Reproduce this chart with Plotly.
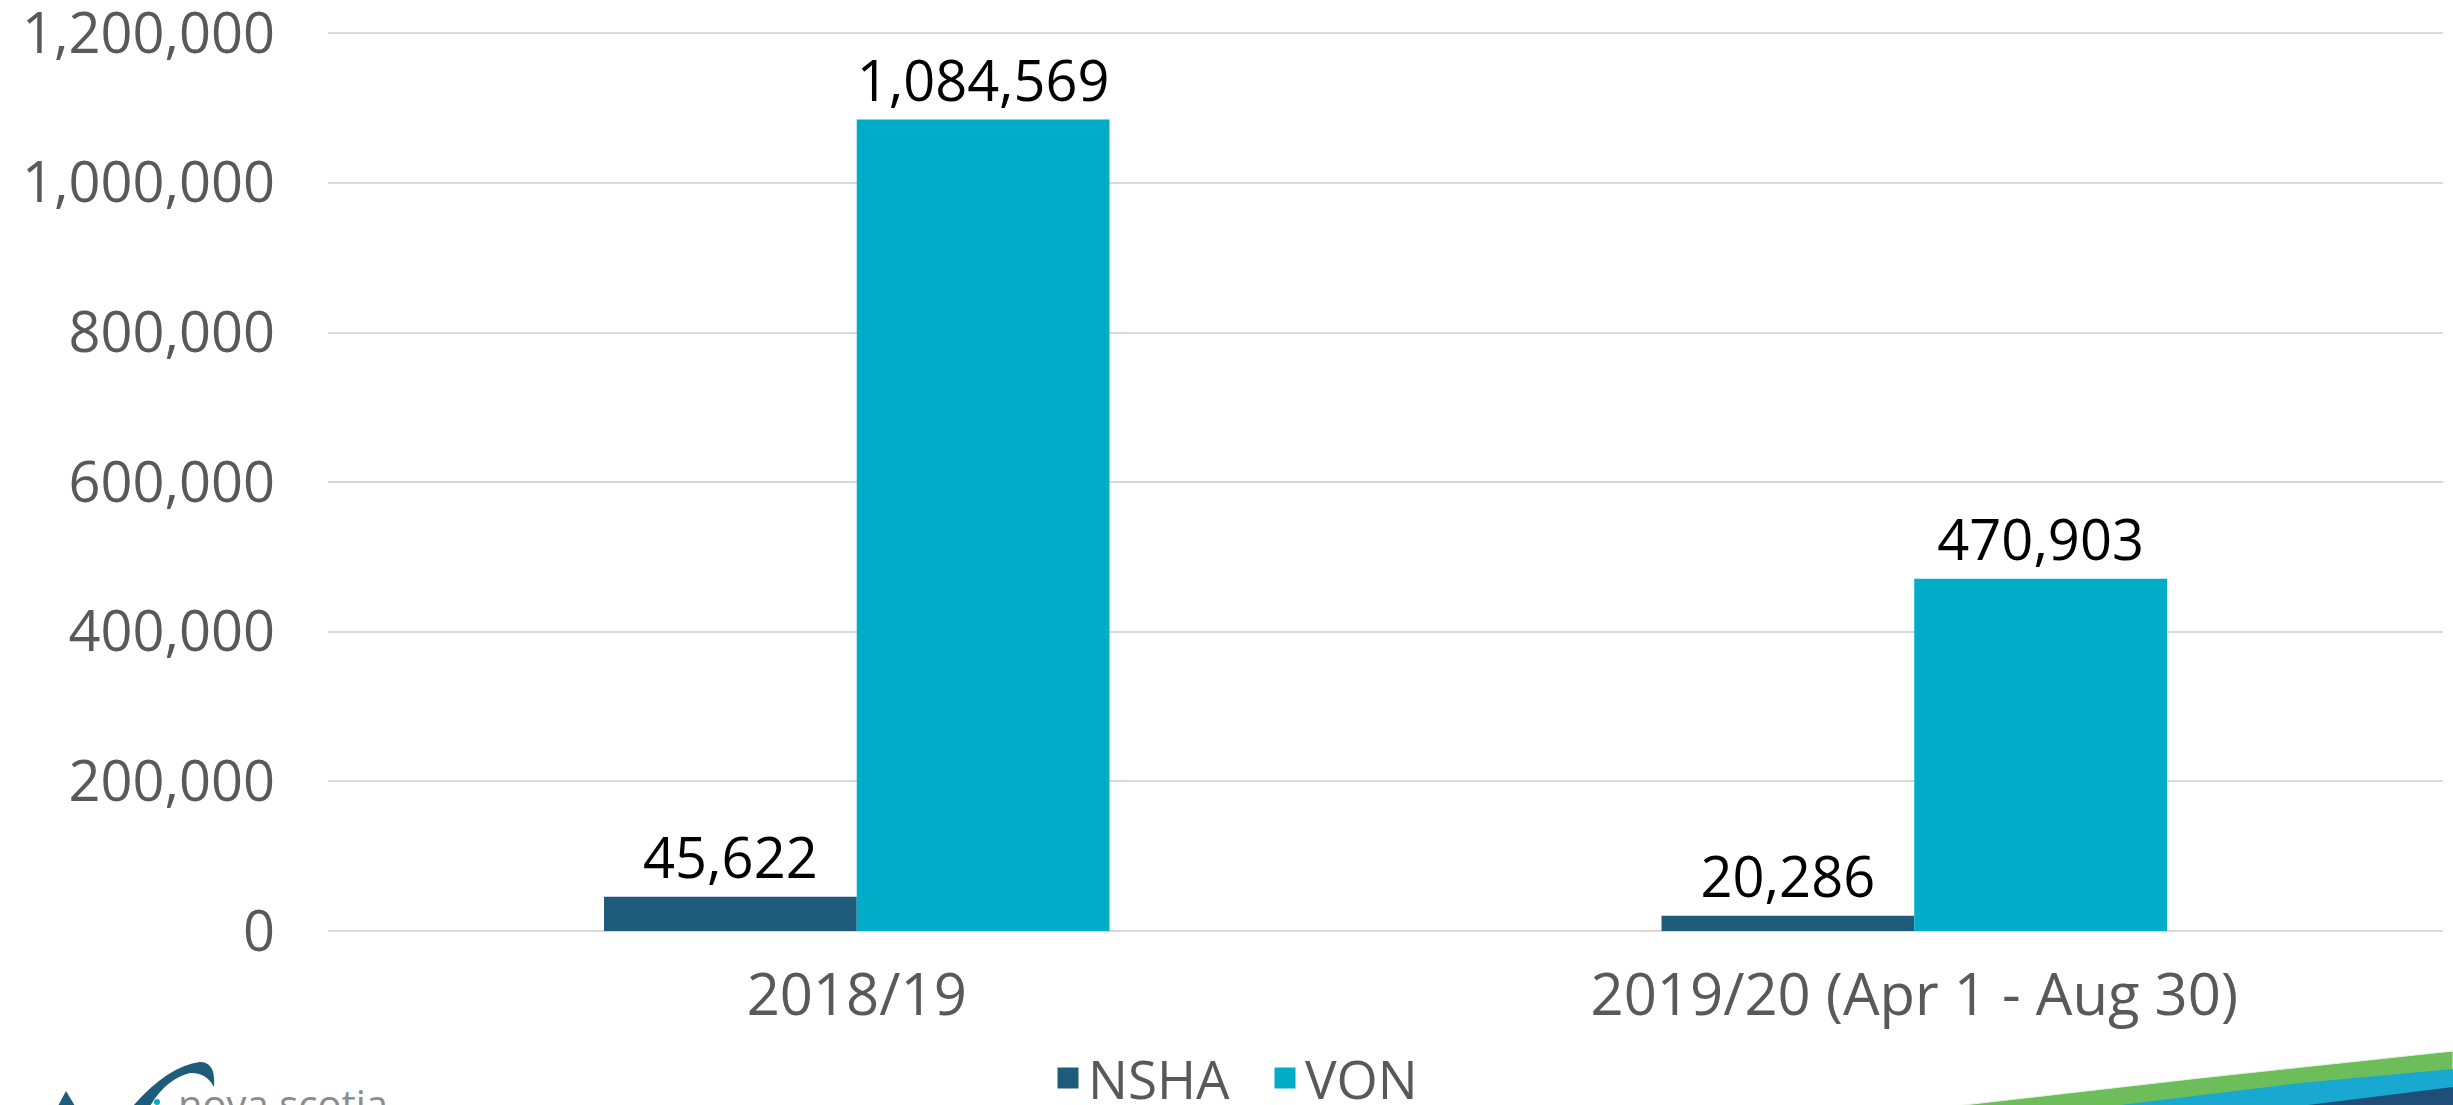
import plotly.graph_objects as go

# ---- data ----
categories = ["2018/19", "2019/20 (Apr 1 - Aug 30)"]
nsha_values = [45622, 20286]
von_values = [1084569, 470903]
series_names = ["NSHA", "VON"]
y_tick_values = [0, 200000, 400000, 600000, 800000, 1000000, 1200000]

# ---- style ----
W, H = 2453, 1105
ML, MR, MT, MB = 328, 10, 31, 174
PW, PH = W - ML - MR, H - MT - MB
FONT = "Open Sans"
NSHA_COLOR = "#1F5B7B"
VON_COLOR = "#00ACC8"
GRID = "#D9D9D9"
AXIS_TEXT = "#595959"


def px(x):
    return (x - ML) / PW


def py(y):
    return (H - MB - y) / PH


fig = go.Figure()
for name, vals, col in [(series_names[0], nsha_values, NSHA_COLOR),
                        (series_names[1], von_values, VON_COLOR)]:
    fig.add_trace(go.Bar(
        x=categories, y=vals, name=name, showlegend=False,
        marker=dict(color=col, line=dict(width=0)),
        texttemplate="%{y:,}", textposition="outside", cliponaxis=False,
        textfont=dict(family=FONT, size=56, color="#000000"),
    ))
# legend entries (square swatches)
for name, col in [(series_names[0], NSHA_COLOR), (series_names[1], VON_COLOR)]:
    fig.add_trace(go.Scatter(
        x=[None], y=[None], mode="markers", name=name, showlegend=True,
        marker=dict(symbol="square", size=16, color=col, line=dict(color=col, width=5)),
    ))


def path_from(points):
    s = "M {:.5f} {:.5f}".format(px(points[0][0]), py(points[0][1]))
    for p in points[1:]:
        s += " L {:.5f} {:.5f}".format(px(p[0]), py(p[1]))
    return s + " Z"


def curve_path(cmds):
    out = []
    for c in cmds:
        if c[0] in ("M", "L"):
            out.append("{} {:.5f} {:.5f}".format(c[0], px(c[1]), py(c[2])))
        elif c[0] == "Q":
            out.append("Q {:.5f} {:.5f} {:.5f} {:.5f}".format(px(c[1]), py(c[2]), px(c[3]), py(c[4])))
        elif c[0] == "Z":
            out.append("Z")
    return " ".join(out)


shapes = []
# bottom-right decorative swoosh
shapes.append(dict(type="path", xref="paper", yref="paper", layer="above",
                   path=path_from([(1955, 1106), (2200, 1078), (2453, 1051), (2453, 1106)]),
                   fillcolor="#6DBE5A", line=dict(color="#E8F3E3", width=1)))
shapes.append(dict(type="path", xref="paper", yref="paper", layer="above",
                   path=path_from([(2112, 1106), (2300, 1083), (2453, 1069), (2453, 1106)]),
                   fillcolor="#19A8CF", line=dict(width=0)))
shapes.append(dict(type="path", xref="paper", yref="paper", layer="above",
                   path=path_from([(2300, 1106), (2453, 1087), (2453, 1106)]),
                   fillcolor="#1F4E79", line=dict(width=0)))
# bottom-left logo fragments
shapes.append(dict(type="path", xref="paper", yref="paper", layer="above",
                   path=curve_path([("M", 133, 1106), ("Q", 168, 1066, 200, 1062),
                                    ("Q", 216, 1062, 214, 1087), ("Q", 206, 1072, 190, 1073),
                                    ("Q", 166, 1079, 150, 1106), ("Z",)]),
                   fillcolor="#1F5B7B", line=dict(width=0)))
shapes.append(dict(type="path", xref="paper", yref="paper", layer="above",
                   path=path_from([(58, 1106), (66, 1091), (75, 1106)]),
                   fillcolor="#1F5B7B", line=dict(width=0)))
shapes.append(dict(type="circle", xref="paper", yref="paper", layer="above",
                   x0=px(154), x1=px(160), y0=py(1099), y1=py(1105),
                   fillcolor="#00ACC8", line=dict(width=0)))

annotations = [dict(xref="paper", yref="paper", x=px(176), y=py(1074),
                    xanchor="left", yanchor="top", showarrow=False,
                    text="nova scotia", font=dict(family=FONT, size=40, color="#8C8C8C"))]

fig.update_layout(
    width=W, height=H,
    margin=dict(l=ML, r=MR, t=MT, b=MB, pad=0, autoexpand=False),
    paper_bgcolor="white", plot_bgcolor="white",
    font=dict(family=FONT, color=AXIS_TEXT),
    barmode="group", bargap=0.522, bargroupgap=0,
    showlegend=True,
    legend=dict(orientation="h", xanchor="left", x=px(1048), yanchor="middle", y=py(1078),
                font=dict(family=FONT, size=53, color=AXIS_TEXT),
                itemwidth=30, tracegroupgap=0, entrywidth=172, entrywidthmode="pixels",
                bgcolor="rgba(0,0,0,0)"),
    shapes=shapes,
    annotations=annotations,
    xaxis=dict(type="category", range=[-0.5, 1.5], showgrid=False, zeroline=False,
               showline=False, ticks="", ticklabelstandoff=25,
               tickfont=dict(family=FONT, size=58, color=AXIS_TEXT)),
    yaxis=dict(range=[0, 1203000], tickvals=y_tick_values, tickformat=",",
               showgrid=True, gridcolor=GRID, gridwidth=2,
               zeroline=True, zerolinecolor=GRID, zerolinewidth=2,
               showline=False, ticks="", ticklabelstandoff=52,
               ticklabeloverflow="allow",
               tickfont=dict(family=FONT, size=56, color=AXIS_TEXT)),
)

fig.write_html(
    "out.html",
    config={"displayModeBar": False},
    post_script="document.body.style.margin='0';document.body.style.overflow='hidden';",
)
